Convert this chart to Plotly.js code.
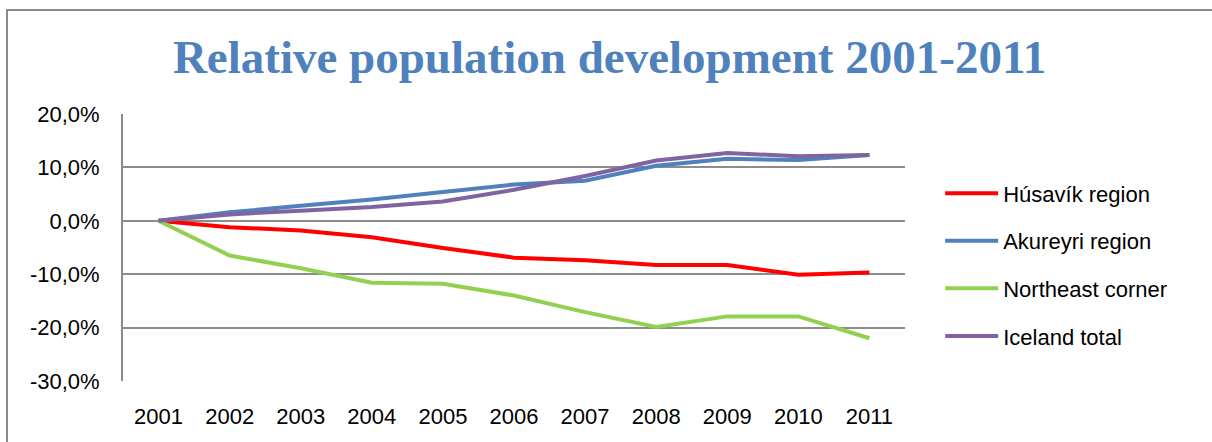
<!DOCTYPE html>
<html>
<head>
<meta charset="utf-8">
<script src="https://cdn.plot.ly/plotly-3.0.1.min.js"></script>
<style>
  body { margin: 0; overflow: hidden; background: #fff; }
  #frame {
    position: absolute; left: 6px; top: 9px; width: 1400px; height: 600px;
    border-left: 2px solid #8a8a8a; border-top: 2px solid #8a8a8a;
  }
  #chart { position: absolute; left: 0; top: 0; width: 1212px; height: 442px; }
</style>
</head>
<body>
<div id="frame"></div>
<div id="chart"></div>
<script>
// years on the category axis
const years = ['2001', '2002', '2003', '2004', '2005', '2006', '2007', '2008', '2009', '2010', '2011'];

// relative change against 2001, in %
const husavik   = [0, -1.2, -1.8, -3.1, -5.1, -6.9, -7.4, -8.3, -8.3, -10.1, -9.7];
const akureyri  = [0, 1.6, 2.8, 4.0, 5.4, 6.8, 7.5, 10.3, 11.6, 11.4, 12.3];
const northeast = [0, -6.5, -8.9, -11.6, -11.8, -14.0, -17.1, -19.9, -17.9, -17.9, -22.0];
const iceland   = [0, 1.2, 1.9, 2.6, 3.6, 5.8, 8.4, 11.3, 12.7, 12.1, 12.3];

const yTickVals = [-30, -20, -10, 0, 10, 20];
const yTickText = ['-30,0%', '-20,0%', '-10,0%', '0,0%', '10,0%', '20,0%'];

const series = [
    { name: 'Húsavík region', y: husavik, color: '#ff0000' },
    { name: 'Akureyri region', y: akureyri, color: '#4f81bd' },
    { name: 'Northeast corner', y: northeast, color: '#92d050' },
    { name: 'Iceland total', y: iceland, color: '#8064a2' }
];

const traces = series.map((s, i) => ({
    x: years,
    y: s.y,
    type: 'scatter',
    mode: 'lines',
    name: s.name,
    legendgroup: 'g' + i,
    line: { color: s.color, width: 4 },
    hovertemplate: '%{x}: %{y:.1f}%<extra>' + s.name + '</extra>'
}));

const layout = {
    width: 1212,
    height: 442,
    title: {
        text: 'Relative population development 2001-2011',
        font: { family: 'Liberation Serif, serif', size: 47, color: '#4f81bd', weight: 'bold' },
        x: 0.503,
        xanchor: 'center',
        y: 0.872,
        yanchor: 'middle'
    },
    xaxis: {
        type: 'category',
        range: [-0.5, 10.5],
        showgrid: false,
        showline: false,
        ticks: '',
        ticklabelstandoff: 20,
        tickfont: { family: 'Liberation Sans, Arial, sans-serif', size: 22, color: '#000' },
        zeroline: false
    },
    yaxis: {
        range: [-30, 20],
        tickvals: yTickVals,
        ticktext: yTickText,
        showgrid: true,
        gridcolor: '#8c8c8c',
        gridwidth: 2,
        zeroline: false,
        showline: true,
        linecolor: '#8c8c8c',
        linewidth: 2,
        ticks: '',
        ticklabelstandoff: 17,
        tickfont: { family: 'Liberation Sans, Arial, sans-serif', size: 22, color: '#000' }
    },
    legend: {
        x: 1.045,
        xanchor: 'left',
        y: 0.435,
        yanchor: 'middle',
        traceorder: 'grouped',
        tracegroupgap: 16,
        itemwidth: 53,
        font: { family: 'Liberation Sans, Arial, sans-serif', size: 22, color: '#000' },
        bgcolor: 'rgba(0,0,0,0)'
    },
    showlegend: true,
    plot_bgcolor: 'rgba(0,0,0,0)',
    paper_bgcolor: 'rgba(0,0,0,0)',
    margin: { t: 114, r: 307, b: 61, l: 123 }
};

Plotly.newPlot('chart', traces, layout, { displayModeBar: false, responsive: false });
</script>
</body>
</html>
